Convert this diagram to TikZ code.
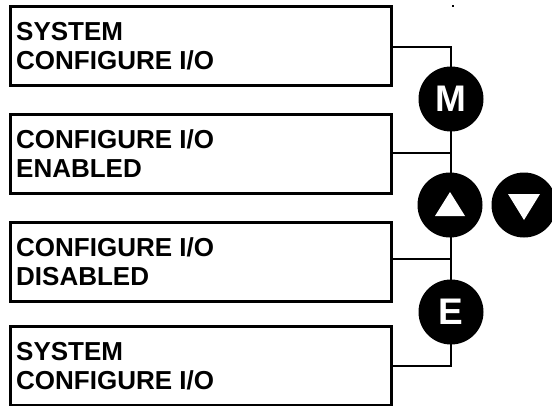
\documentclass[tikz,border=0pt]{standalone}
\usepackage{fontspec}
\setmainfont{Liberation Sans}
\begin{document}
\begin{tikzpicture}[x=1pt,y=-1pt,
  lcdbox/.style={draw,line width=3.2pt,minimum width=381pt,minimum height=79pt,inner sep=0pt,anchor=north west},
  lcdtext/.style={anchor=base west,inner sep=0pt,font=\fontsize{26}{30}\selectfont\bfseries},
  keybtn/.style={circle,fill=black,minimum size=65pt,inner sep=0pt,text=white,font=\fontsize{37}{37}\selectfont\bfseries},
  wire/.style={line width=2.9pt}]
\useasboundingbox (0,0) rectangle (552,405);
% boxes
\node[lcdbox] (b1) at (9,5) {};
\node[lcdbox] (b2) at (9,113) {};
\node[lcdbox] (b3) at (9,221) {};
\node[lcdbox] (b4) at (9,325) {};
% texts
\node[lcdtext] (t1a) at (16,40) {SYSTEM};
\node[lcdtext] (t1b) at (16,69) {CONFIGURE I/O};
\node[lcdtext] (t2a) at (16,148) {CONFIGURE I/O};
\node[lcdtext] (t2b) at (16,177) {ENABLED};
\node[lcdtext] (t3a) at (16,256) {CONFIGURE I/O};
\node[lcdtext] (t3b) at (16,285) {DISABLED};
\node[lcdtext] (t4a) at (16,360) {SYSTEM};
\node[lcdtext] (t4b) at (16,389) {CONFIGURE I/O};
% wiring
\coordinate (c1) at (451,47);
\coordinate (c2) at (451,153);
\coordinate (c3) at (451,259);
\coordinate (c4) at (451,366);
\draw[wire] (b1.east |- c1) -- (c1) -- (c4) -- (b4.east |- c4);
\draw[wire] (b2.east |- c2) -- (c2);
\draw[wire] (b3.east |- c3) -- (c3);
% keys
\node[keybtn] (M) at (451,99) {M};
\node[keybtn] (U) at (450,205) {};
\node[keybtn] (D) at (524,205) {};
\node[keybtn] (E) at (451,312) {E};
\fill[white] ([shift={(-15,11)}]U.center) -- ([shift={(15,11)}]U.center) -- ([shift={(0,-13)}]U.center) -- cycle;
\fill[white] ([shift={(-16,-11)}]D.center) -- ([shift={(16,-11)}]D.center) -- ([shift={(0,15)}]D.center) -- cycle;
% stray dot
\fill (452,5) rectangle (454,7);
\end{tikzpicture}
\end{document}
